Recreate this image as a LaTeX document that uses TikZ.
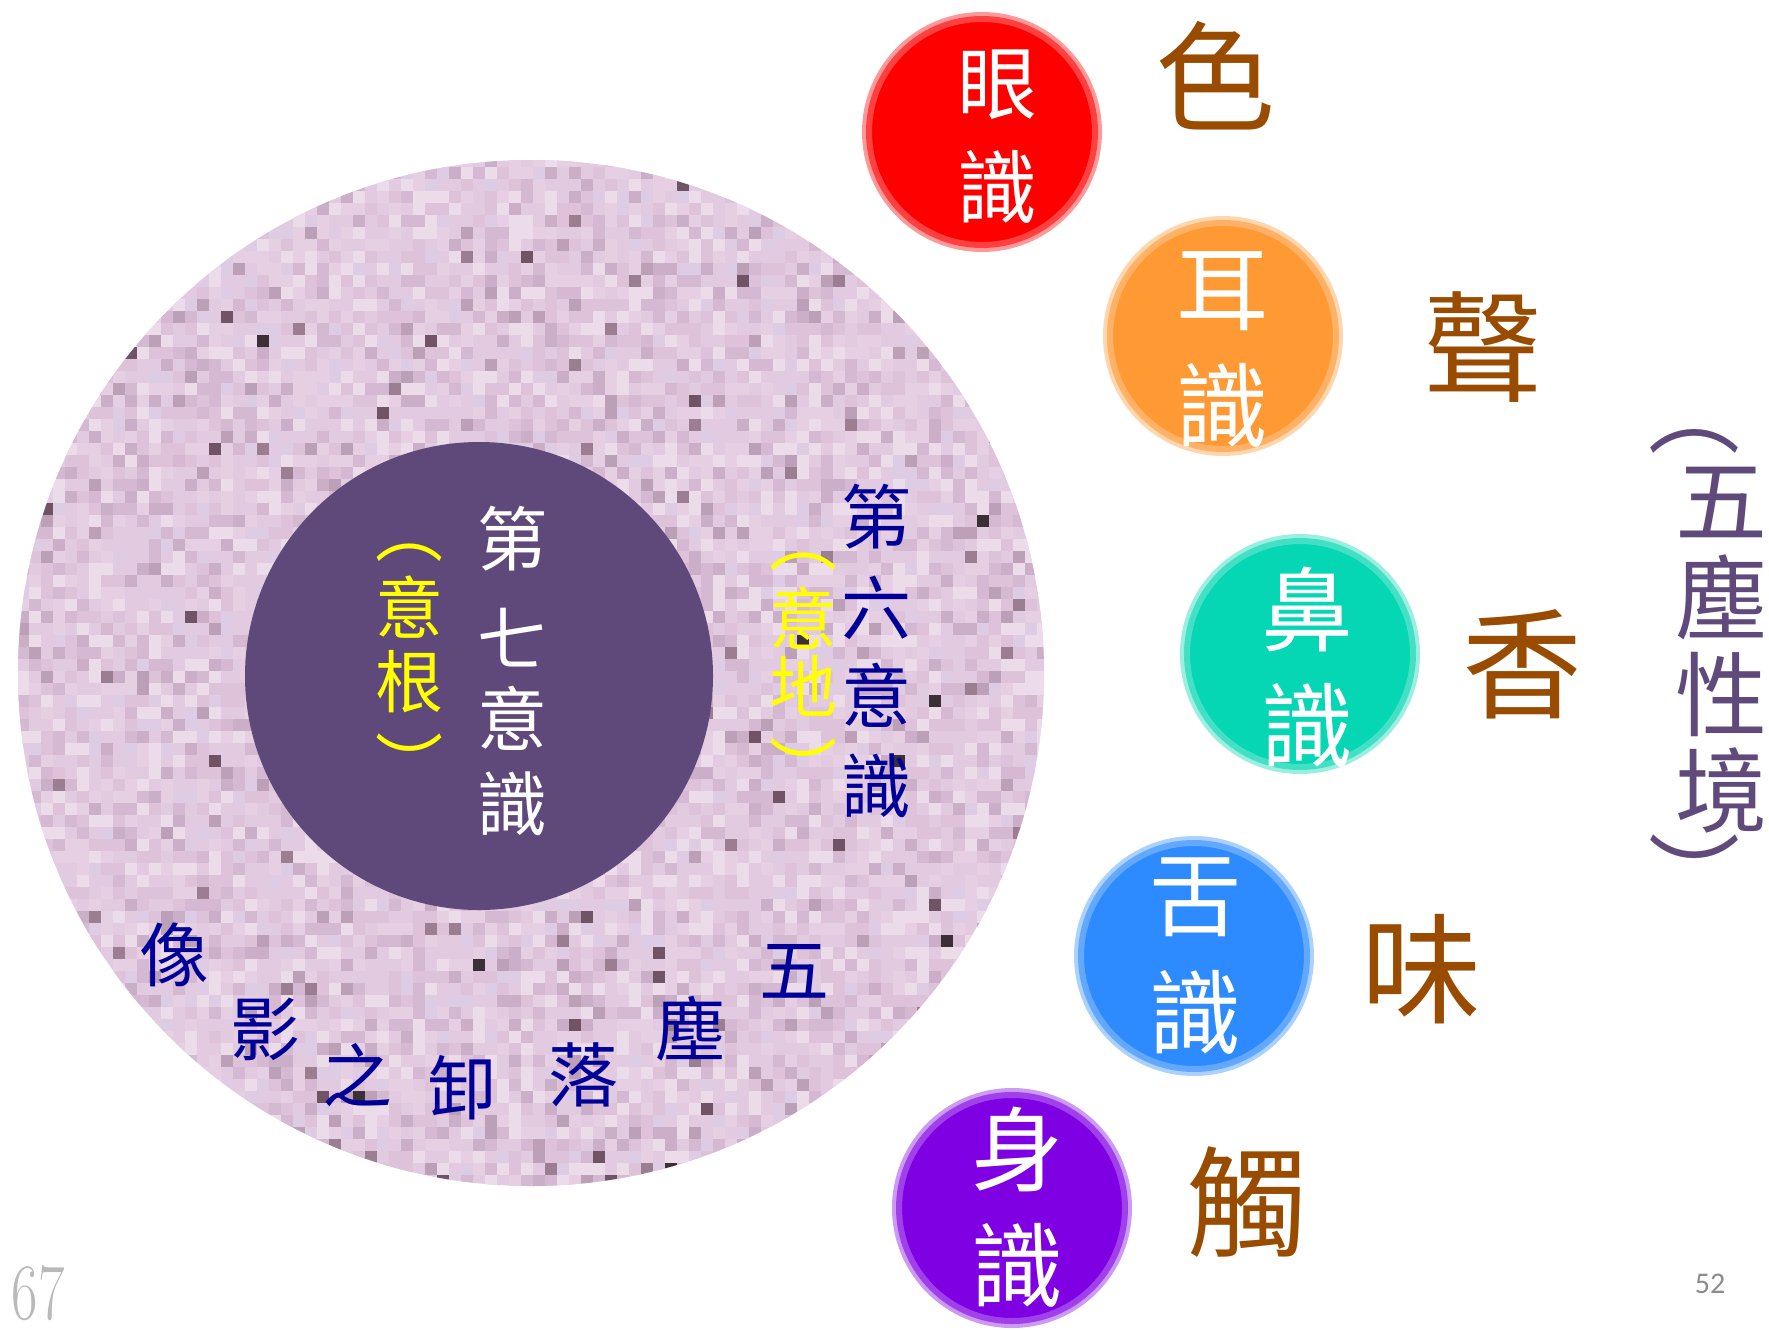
\documentclass[tikz,border=0pt]{standalone}
\usepackage{fontspec}
\newfontfamily\cjk{Noto Sans CJK TC}
\newfontfamily\calib{Carlito}
\definecolor{innerpurple}{HTML}{5F497A}
\definecolor{navyc}{HTML}{000099}
\definecolor{yelc}{HTML}{FFFF00}
\definecolor{brownc}{HTML}{994C00}
\definecolor{labelpurple}{HTML}{604A7B}
\definecolor{eyec}{HTML}{FF0000}
\definecolor{earc}{HTML}{FF9933}
\definecolor{nosec}{HTML}{05D6B3}
\definecolor{tonguec}{HTML}{2E8BFF}
\definecolor{bodyc}{HTML}{7F00E3}
\definecolor{texbase}{HTML}{E2CAE0}
\definecolor{texA}{HTML}{ECDCEA}
\definecolor{texB}{HTML}{E6CFE2}
\definecolor{texC}{HTML}{DDC2D9}
\definecolor{texD}{HTML}{D5B8D1}
\definecolor{texE}{HTML}{DECCE4}
\definecolor{texF}{HTML}{CBAEC8}
\definecolor{texG}{HTML}{BBA0B7}
\definecolor{texH}{HTML}{9C7E92}
\definecolor{texI}{HTML}{705466}
\definecolor{texJ}{HTML}{3A3036}
\definecolor{pagegray}{HTML}{8C8C8C}
\begin{document}
\begin{tikzpicture}[x=1pt,y=-1pt,
  every node/.style={inner sep=0pt, outer sep=0pt},
  disc/.style={circle, minimum size=226pt, fill=#1, draw=#1!75!white, line width=6pt,
    preaction={draw=#1!40!white, line width=14pt}},
  ctxt/.style={text=white, font=\cjk\fontsize{92}{92}\selectfont},
  ctxtsmall/.style={text=white, font=\cjk\fontsize{80}{80}\selectfont},
  seventxt/.style={text=white, font=\cjk\fontsize{70}{70}\selectfont},
  yeltxt/.style={text=yelc, font=\cjk\fontsize{68}{68}\selectfont},
  navytxt/.style={text=navyc, font=\cjk\fontsize{70}{70}\selectfont},
  dusttxt/.style={text=brownc, font=\cjk\fontsize{120}{120}\selectfont},
  sidetxt/.style={text=labelpurple, font=\cjk\fontsize{92}{92}\selectfont},
]
\useasboundingbox (0,0) rectangle (1769,1330);
\fill[white] (0,0) rectangle (1769,1330);

% textured outer disc
\node[circle, minimum size=1026pt, fill=texbase] (sixth) at (531,673) {};
\begin{scope}
  \clip (531,673) circle (513);
  \pgfmathsetseed{1234}
  \foreach \i in {0,...,86}{
    \foreach \j in {0,...,86}{
      \pgfmathrandominteger{\k}{0}{999}
      \ifnum\k<738\relax
        \ifnum\k<150 \def\cc{texA}\else\ifnum\k<300 \def\cc{texB}\else\ifnum\k<450 \def\cc{texC}\else\ifnum\k<560 \def\cc{texD}\else\ifnum\k<640 \def\cc{texE}\else\ifnum\k<690 \def\cc{texF}\else\ifnum\k<720 \def\cc{texG}\else\ifnum\k<730 \def\cc{texH}\else\ifnum\k<735 \def\cc{texI}\else\def\cc{texJ}\fi\fi\fi\fi\fi\fi\fi\fi\fi
        \fill[\cc] (\i*12+17,\j*12+155) rectangle +(12,12);
      \fi
    }
  }
\end{scope}

% inner disc
\node[circle, minimum size=468pt, fill=innerpurple] (seventh) at (479,676) {};

% seventh consciousness text
\node[seventxt] (s1) at (512,539) {第};
\node[seventxt] (s2) at (512,638) {七};
\node[seventxt] (s3) at (512,718) {意};
\node[seventxt] (s4) at (512,804) {識};
\node[yeltxt] (y1) at (409,553) {︵};
\node[yeltxt] (y2) at (409,607) {意};
\node[yeltxt] (y3) at (409,682) {根};
\node[yeltxt] (y4) at (409,762) {︶};

% sixth consciousness text
\node[navytxt] (n1) at (876,517) {第};
\node[navytxt] (n2) at (876,608) {六};
\node[navytxt] (n3) at (876,695) {意};
\node[navytxt] (n4) at (876,786) {識};
\node[yeltxt] (z1) at (803,562) {︵};
\node[yeltxt] (z2) at (803,618) {意};
\node[yeltxt] (z3) at (803,686) {地};
\node[yeltxt] (z4) at (803,767) {︶};

% bottom arc text
\node[navytxt] (b1) at (174,955) {像};
\node[navytxt] (b2) at (265,1029) {影};
\node[navytxt] (b3) at (357,1075) {之};
\node[navytxt] (b4) at (462,1088) {卸};
\node[navytxt] (b5) at (583,1075) {落};
\node[navytxt] (b6) at (690,1029) {塵};
\node[navytxt] (b7) at (794,971) {五};

% five consciousness discs
\node[disc=eyec] (eye) at (982,132) {};
\node[disc=earc] (ear) at (1223,336) {};
\node[disc=nosec] (nose) at (1300,654) {};
\node[disc=tonguec] (tongue) at (1194,956) {};
\node[disc=bodyc] (body) at (1012,1208) {};

\node[ctxtsmall] (e1) at (997,85) {眼};
\node[ctxtsmall] (e2) at (997,187) {識};
\node[ctxt] (r1) at (1222,291) {耳};
\node[ctxt] (r2) at (1222,405) {識};
\node[ctxt] (o1) at (1307,609) {鼻};
\node[ctxt] (o2) at (1307,725) {識};
\node[ctxt] (t1) at (1195,897) {舌};
\node[ctxt] (t2) at (1195,1012) {識};
\node[ctxt] (d1) at (1017,1149) {身};
\node[ctxt] (d2) at (1017,1265) {識};

% five dusts
\node[dusttxt] (c1) at (1215,76) {色};
\node[dusttxt] (c2) at (1483,347) {聲};
\node[dusttxt] (c3) at (1522,664) {香};
\node[dusttxt] (c4) at (1421,969) {味};
\node[dusttxt] (c5) at (1247,1202) {觸};

% side label
\node[sidetxt] (p1) at (1694,441) {︵};
\node[sidetxt] (p2) at (1721,502) {五};
\node[sidetxt] (p3) at (1721,597) {塵};
\node[sidetxt] (p4) at (1721,694) {性};
\node[sidetxt] (p5) at (1721,790) {境};
\node[sidetxt] (p6) at (1694,873) {︶};

% page numbers
\node[text=gray!55, font=\fontsize{80}{80}\selectfont] (num67) at (38,1293) {\scalebox{0.72}[1]{67}};
\node[text=pagegray, font=\calib\fontsize{30}{30}\selectfont] (num52) at (1710,1284) {52};
\end{tikzpicture}
\end{document}
